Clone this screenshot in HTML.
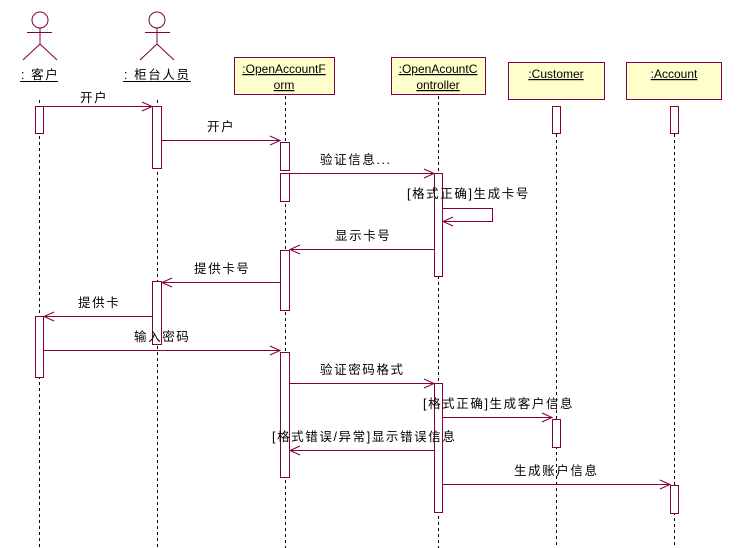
<!DOCTYPE html>
<html><head><meta charset="utf-8"><style>
body{margin:0;background:#fff;width:744px;height:548px;overflow:hidden}
svg{display:block}
text{font-family:"Liberation Sans","Noto Sans CJK SC",sans-serif;font-size:12px;fill:#000}
.m{font-size:12.5px;letter-spacing:1.6px}
</style></head><body>
<svg width="744" height="548" viewBox="0 0 744 548" xmlns="http://www.w3.org/2000/svg">
<g stroke="#000" stroke-width="1" stroke-dasharray="3,3" fill="none">
<line x1="39.5" y1="100" x2="39.5" y2="548"/>
<line x1="157.5" y1="100" x2="157.5" y2="548"/>
<line x1="285.5" y1="96" x2="285.5" y2="548"/>
<line x1="438.5" y1="96" x2="438.5" y2="548"/>
<line x1="556.5" y1="134" x2="556.5" y2="548"/>
<line x1="674.5" y1="134" x2="674.5" y2="548"/>
</g>
<g stroke="#800040" fill="none" stroke-width="1">
<circle cx="40" cy="20" r="8"/><line x1="40" y1="28" x2="40" y2="44"/><line x1="27" y1="32.5" x2="52" y2="32.5"/><line x1="40" y1="44" x2="23" y2="60"/><line x1="40" y1="44" x2="57" y2="60"/>
<circle cx="157" cy="20" r="8"/><line x1="157" y1="28" x2="157" y2="44"/><line x1="145" y1="32.5" x2="170" y2="32.5"/><line x1="157" y1="44" x2="140" y2="60"/><line x1="157" y1="44" x2="174" y2="60"/>
</g>
<g stroke="#800040" fill="#ffffcc">
<rect x="234.5" y="57.5" width="100" height="37"/>
<rect x="391.5" y="57.5" width="94" height="37"/>
<rect x="508.5" y="62.5" width="96" height="37"/>
<rect x="626.5" y="62.5" width="95" height="37"/>
</g>
<g stroke="#800040" fill="#fff">
<rect x="35.5" y="106.5" width="8" height="27"/>
<rect x="152.5" y="106.5" width="9" height="62"/>
<rect x="280.5" y="142.5" width="9" height="28"/>
<rect x="280.5" y="173.5" width="9" height="28"/>
<rect x="434.5" y="173.5" width="8" height="103"/>
<rect x="552.5" y="106.5" width="8" height="27"/>
<rect x="670.5" y="106.5" width="8" height="27"/>
<rect x="280.5" y="250.5" width="9" height="60"/>
<rect x="152.5" y="281.5" width="9" height="63"/>
<rect x="35.5" y="316.5" width="8" height="61"/>
<rect x="280.5" y="352.5" width="9" height="125"/>
<rect x="434.5" y="383.5" width="8" height="129"/>
<rect x="552.5" y="419.5" width="8" height="28"/>
<rect x="670.5" y="485.5" width="8" height="28"/>
</g>
<g stroke="#800040" fill="none">
<path d="M44 106.5H152M142 102L152 106.5L142 111"/>
<path d="M162 140.5H280M270 136L280 140.5L270 145"/>
<path d="M290 173.5H434M424 169L434 173.5L424 178"/>
<path d="M443 208.5H492.5V221.5H443M453 217L443 221.5L453 226"/>
<path d="M434 249.5H290M300 245L290 249.5L300 254"/>
<path d="M280 282.5H162M172 278L162 282.5L172 287"/>
<path d="M152 316.5H44M54 312L44 316.5L54 321"/>
<path d="M44 350.5H280M270 346L280 350.5L270 355"/>
<path d="M290 383.5H434M424 379L434 383.5L424 388"/>
<path d="M443 417.5H552M542 413L552 417.5L542 422"/>
<path d="M434 450.5H290M300 446L290 450.5L300 455"/>
<path d="M443 484.5H670M660 480L670 484.5L660 489"/>
<line x1="20" y1="81.5" x2="58" y2="81.5" stroke="#000"/>
<line x1="123" y1="81.5" x2="191" y2="81.5" stroke="#000"/>
</g>
<text x="21" y="79" class="m">: 客户</text>
<text x="124" y="79" class="m">: 柜台人员</text>
<g text-anchor="middle" text-decoration="underline">
<text x="284" y="73">:OpenAccountF</text><text x="284" y="89">orm</text>
<text x="438" y="73">:OpenAcountC</text><text x="438" y="89">ontroller</text>
<text x="556" y="78">:Customer</text>
<text x="674" y="78">:Account</text>
</g>
<g class="m">
<text x="80" y="102" class="m">开户</text>
<text x="207" y="131" class="m">开户</text>
<text x="320" y="164" class="m">验证信息...</text>
<text x="407" y="198" class="m">[格式正确]生成卡号</text>
<text x="335" y="240" class="m">显示卡号</text>
<text x="194" y="273" class="m">提供卡号</text>
<text x="78" y="307" class="m">提供卡</text>
<text x="134" y="341" class="m">输入密码</text>
<text x="320" y="374" class="m">验证密码格式</text>
<text x="423" y="408" class="m">[格式正确]生成客户信息</text>
<text x="272" y="441" class="m">[格式错误/异常]显示错误信息</text>
<text x="514" y="475" class="m">生成账户信息</text>
</g>
</svg>
</body></html>
